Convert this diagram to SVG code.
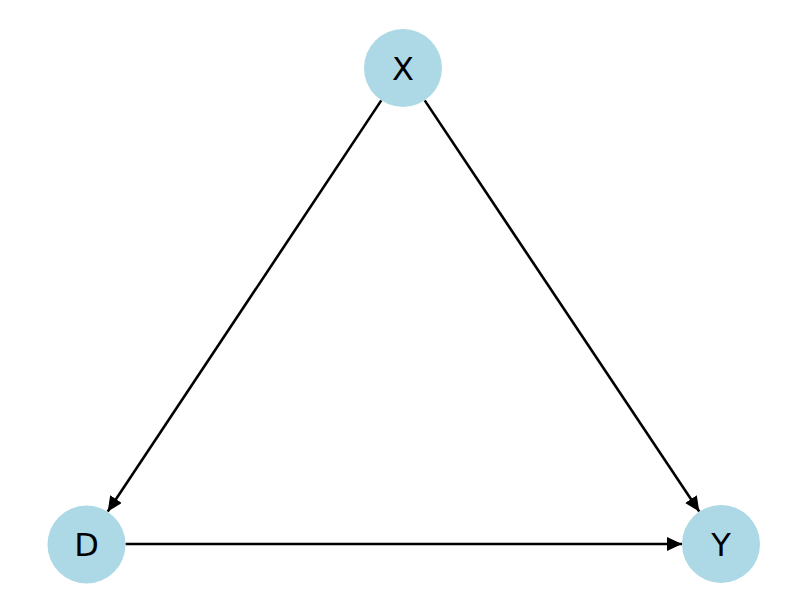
<svg xmlns="http://www.w3.org/2000/svg" width="806" height="614" viewBox="0 0 806 614">
<style>
.node circle{fill:#add8e6;}
.node text{font-family:"DejaVu Sans",sans-serif;font-size:32px;fill:#000;text-anchor:middle;}
.edge{stroke:#000;stroke-width:2.6;fill:none;}
</style>
<defs>
<marker id="arr" markerUnits="userSpaceOnUse" markerWidth="17" markerHeight="15" refX="15" refY="7" orient="auto">
<path d="M0,0 L15,7 L0,14 Z" fill="#000"/>
</marker>
</defs>
<rect width="806" height="614" fill="#fff"/>
<g id="connectors">
<line class="edge" x1="381.3" y1="100.4" x2="107.7" y2="511.6" marker-end="url(#arr)"/>
<line class="edge" x1="424.7" y1="100.4" x2="699.3" y2="511.6" marker-end="url(#arr)"/>
<line class="edge" x1="125.5" y1="544" x2="682" y2="544" marker-end="url(#arr)"/>
</g>
<g id="node-X" class="node"><circle cx="403" cy="68" r="39"/><text x="403" y="79.5">X</text></g>
<g id="node-D" class="node"><circle cx="86.5" cy="544.5" r="39"/><text x="86.5" y="556">D</text></g>
<g id="node-Y" class="node"><circle cx="721" cy="544" r="39"/><text x="721" y="555.5">Y</text></g>
</svg>
